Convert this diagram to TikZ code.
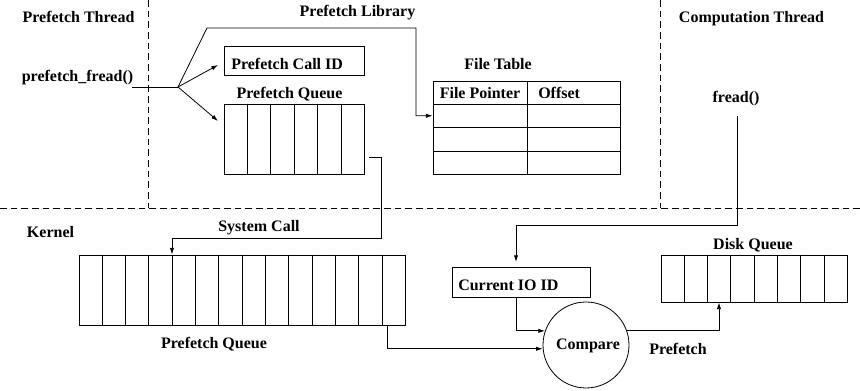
\documentclass[tikz,border=0pt]{standalone}
\usepackage{fontspec}
\setmainfont{Liberation Serif}
\usetikzlibrary{arrows.meta,calc}
\begin{document}
\begin{tikzpicture}[x=0.75pt,y=-0.75pt,
  lbl/.style={font=\fontsize{12}{14}\selectfont\bfseries, inner sep=0pt},
  box/.style={draw, line width=0.6pt, inner sep=0pt},
  conn/.style={line width=0.6pt},
  arr/.style={conn, -{Latex[length=5pt,width=3.2pt]}},
  sep/.style={line width=0.5pt, dash pattern=on 5pt off 3pt}]
\useasboundingbox (0,0) rectangle (860,391);

% separators
\coordinate (s1t) at (148,0);   \coordinate (s1b) at (148,208);
\coordinate (s2t) at (660,0);   \coordinate (s2b) at (660,208);
\coordinate (hl) at (0,208);    \coordinate (hr) at (860,208);
\draw[sep] (s1t) -- (s1b);
\draw[sep] (s2t) -- (s2b);
\draw[sep] (hl) -- (hr);

% region labels
\node[lbl, anchor=base] (lthr) at (78.5,23) {Prefetch Thread};
\node[lbl, anchor=base] (llib) at (357.5,17) {Prefetch Library};
\node[lbl, anchor=base] (lcomp) at (751.5,23) {Computation Thread};
\node[lbl, anchor=base] (lker) at (50.5,238) {Kernel};

% boxes
\node[box, minimum width=105pt, minimum height=21.75pt] (callid) at (294,60.5) {};
\node[lbl, anchor=base west] (tcallid) at (231,70) {Prefetch Call ID};

\node[box, minimum width=105pt, minimum height=52.5pt] (pq) at (294,139) {};
\foreach \i in {1,...,5}
  \draw[conn] ($(pq.north west)!\i/6!(pq.north east)$) -- ($(pq.south west)!\i/6!(pq.south east)$);
\node[lbl, anchor=base] (tpq) at (289.5,99) {Prefetch Queue};

\node[box, minimum width=140.25pt, minimum height=69.75pt] (ft) at (526.5,127.5) {};
\foreach \i in {1,2,3}
  \draw[conn] ($(ft.north west)!\i/4!(ft.south west)$) -- ($(ft.north east)!\i/4!(ft.south east)$);
\draw[conn] ($(ft.north west)!0.503!(ft.north east)$) -- ($(ft.south west)!0.503!(ft.south east)$);
\node[lbl, anchor=base] (tft) at (498,70) {File Table};
\node[lbl, anchor=base] (tfp) at (480,99) {File Pointer};
\node[lbl, anchor=base west] (toff) at (538,99) {Offset};

\node[box, minimum width=244.5pt, minimum height=52.5pt] (kq) at (242,290) {};
\foreach \i in {1,...,13}
  \draw[conn] ($(kq.north west)!\i/14!(kq.north east)$) -- ($(kq.south west)!\i/14!(kq.south east)$);
\node[lbl, anchor=base] (tsys) at (259,232) {System Call};
\node[lbl, anchor=base] (tkq) at (214,349) {Prefetch Queue};

\node[box, minimum width=103.5pt, minimum height=22.5pt] (ioid) at (521,282) {};
\node[lbl, anchor=base west] (tioid) at (458,291) {Current IO ID};

\node[box, circle, minimum size=64.5pt] (cmp) at (586,345) {};
\node[lbl, anchor=base] (tcmp) at (588,350) {Compare};

\node[box, minimum width=139.5pt, minimum height=35.25pt] (dq) at (754,278.5) {};
\foreach \i in {1,...,7}
  \draw[conn] ($(dq.north west)!\i/8!(dq.north east)$) -- ($(dq.south west)!\i/8!(dq.south east)$);
\node[lbl, anchor=base] (tdq) at (753,250) {Disk Queue};
\node[lbl, anchor=base] (tpref) at (678,355) {Prefetch};

\node[lbl, anchor=base] (pf) at (77.5,82) {prefetch\_fread()};
\node[lbl, anchor=base] (fr) at (736,103) {fread()};

% connectors
\coordinate (pfs) at (132,87);
\coordinate (j) at (178,87);
\coordinate (a1) at (218,65);
\coordinate (a2) at (218,121);
\draw[conn] (pfs) -- (j);
\draw[arr] (j) -- (a1);
\draw[arr] (j) -- (a2);
\coordinate (b1) at (207,28);
\coordinate (b2) at (416,28);
\coordinate (ftin) at ($(ft.north west)!0.375!(ft.south west)$);
\draw[arr] (j) -- (b1) -- (b2) |- (ftin);

\coordinate (pqo) at (369,157);
\coordinate (pqc) at (381,238);
\coordinate (kqin) at ($(kq.north west)!4/14!(kq.north east)$);
\draw[arr] (pqo) -| (pqc) -| (kqin);

\coordinate (kqo) at ($(kq.south west)!0.945!(kq.south east)$);
\draw[arr] (kqo) |- (cmp.185);

\coordinate (frs) at (737,116);
\coordinate (frc) at (737,225);
\coordinate (ioin) at ($(ioid.north west)!0.464!(ioid.north east)$);
\draw[arr, shorten >=3.5pt] (frs) -- (frc) -| (ioin);

\coordinate (ioo) at ($(ioid.south west)!0.464!(ioid.south east)$);
\draw[arr] (ioo) |- (cmp.161);

\coordinate (dqin) at ($(dq.south west)!0.3125!(dq.south east)$);
\draw[arr] (cmp.19) -| (dqin);
\end{tikzpicture}
\end{document}
